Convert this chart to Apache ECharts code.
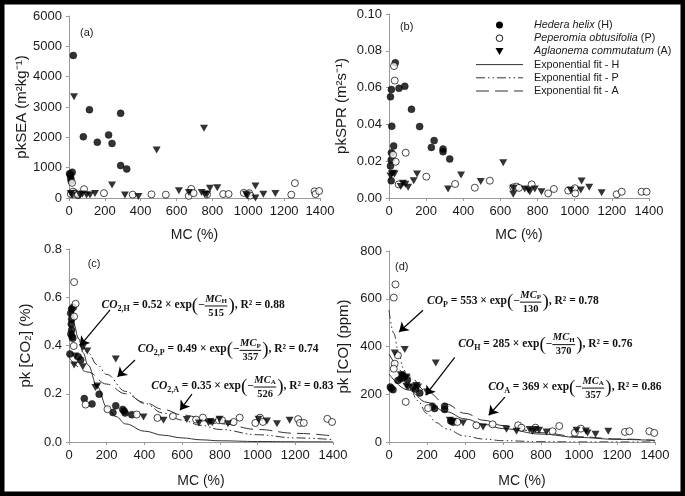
<!DOCTYPE html>
<html><head><meta charset="utf-8">
<script src="https://cdn.jsdelivr.net/npm/echarts@6/dist/echarts.min.js"></script>
<style>html,body{margin:0;padding:0;background:#fff}#c{width:685px;height:496px}</style>
</head><body><div id="c"></div><script>
// ---------- data (MC %, value) ----------
const sea_H = [[3,800],[8,760],[10,650],[12,560],[18,850],[24,4700],[30,180],[50,100],[80,2020],[114,2910],[158,1840],[221,2080],[240,1800],[288,2790],[288,1070],[322,955]];
const sea_P = [[10,130],[17,500],[22,210],[28,140],[50,110],[84,290],[195,160],[355,110],[460,120],[540,110],[668,70],[682,300],[695,160],[770,120],[860,130],[890,130],[975,170],[1005,160],[1012,80],[1240,110],[1260,490],[1370,220],[1375,130],[1395,230]];
const sea_A = [[10,150],[18,100],[28,3340],[61,100],[75,130],[98,100],[117,100],[145,150],[240,430],[312,100],[387,50],[489,1580],[613,240],[669,180],[740,180],[753,2300],[758,120],[770,120],[786,320],[827,340],[987,120],[994,70],[1040,395],[1040,0],[1084,120],[1151,150]];

const spr_H = [[34,0.0735],[13,0.059],[54,0.0596],[85,0.0607],[8,0.055],[121,0.0482],[15,0.039],[165,0.0388],[243,0.0312],[228,0.0275],[291,0.0266],[291,0.0252],[327,0.0212],[25,0.0283],[13,0.0246],[12,0.0207],[8,0.0174],[12,0.0094]];
const spr_P = [[27,0.0717],[31,0.0638],[22,0.0235],[36,0.0197],[90,0.0246],[52,0.0074],[201,0.0116],[356,0.0076],[462,0.0056],[543,0.0094],[669,0.0058],[687,0.0062],[700,0.0055],[768,0.0074],[857,0.0025],[888,0.0049],[965,0.004],[1001,0.0053],[1003,0.0025],[1226,0.002],[1253,0.0034],[1360,0.0034],[1387,0.0034]];
const spr_A = [[8,0.012],[15,0.013],[22,0.0134],[30,0.013],[63,0.0062],[75,0.008],[88,0.0075],[103,0.0058],[133,0.0094],[151,0.013],[318,0.0049],[388,0.0125],[494,0.0089],[615,0.0192],[669,0.0053],[669,0.002],[731,0.0049],[750,0.0043],[758,0.0034],[785,0.0049],[821,0.0034],[978,0.0043],[1037,0.0092],[1033,0.0043],[1078,0.0058],[1145,0.0029]];

const co2_H = [[14,0.551],[23,0.559],[9,0.534],[14,0.509],[12,0.489],[14,0.464],[10,0.448],[16,0.437],[20,0.43],[5,0.365],[49,0.353],[62,0.34],[81,0.18],[122,0.158],[160,0.198],[233,0.122],[248,0.15],[285,0.135],[292,0.128],[298,0.12],[333,0.113]];
const co2_P = [[27,0.663],[35,0.573],[27,0.52],[25,0.398],[88,0.155],[204,0.136],[359,0.114],[469,0.1],[551,0.107],[674,0.093],[710,0.101],[795,0.09],[812,0.09],[873,0.083],[905,0.101],[988,0.079],[1013,0.101],[1028,0.083],[1215,0.095],[1225,0.079],[1245,0.079],[1370,0.096],[1395,0.083]];
const co2_A = [[27,0.319],[32,0.356],[73,0.392],[97,0.377],[73,0.312],[140,0.226],[150,0.232],[248,0.344],[395,0.104],[501,0.09],[625,0.093],[689,0.079],[740,0.08],[750,0.085],[760,0.08],[798,0.094],[843,0.076],[1005,0.094],[1050,0.087],[1103,0.076],[1170,0.09]];

const co_H = [[7,230],[12,225],[21,219],[47,258],[62,265],[70,280],[80,272],[97,261],[126,230],[140,222],[162,205],[228,150],[240,140],[293,150],[293,136],[325,88],[338,83]];
const co_P = [[34,660],[25,605],[47,363],[30,328],[25,307],[88,168],[206,142],[360,84],[460,70],[545,74],[680,70],[697,60],[771,60],[861,45],[896,67],[978,39],[1010,56],[1242,42],[1265,45],[1370,45],[1396,38]];
const co_A = [[30,373],[83,387],[62,282],[92,272],[92,233],[100,230],[144,237],[153,230],[200,209],[246,331],[320,91],[337,87],[390,80],[495,63],[618,53],[671,45],[740,52],[755,45],[770,52],[790,49],[829,42],[987,49],[1036,46],[1045,38],[1087,32],[1154,45]];

// fitted curves
const fitc_H = [[0,0.56],[25,0.49],[50,0.43],[75,0.37],[100,0.32],[150,0.23],[200,0.145],[250,0.105],[300,0.075],[400,0.045],[500,0.028],[600,0.017],[700,0.009],[800,0.005],[1000,0.002],[1200,0.001],[1400,0.0003]];
const fitc_P = [[0,0.49],[50,0.43],[100,0.37],[150,0.32],[200,0.28],[300,0.21],[400,0.16],[500,0.12],[600,0.091],[700,0.069],[800,0.052],[1000,0.030],[1200,0.017],[1400,0.010]];
const fitc_A = [[0,0.35],[100,0.29],[200,0.24],[300,0.20],[400,0.164],[500,0.135],[600,0.112],[800,0.076],[1000,0.052],[1200,0.036],[1400,0.025]];
const fitd_H = [[0,285],[100,218],[200,166],[300,127],[400,97],[500,74],[600,56],[800,33],[1000,19],[1200,11],[1400,6.5]];
const fitd_P = [[0,553],[25,456],[50,377],[75,310],[100,256],[150,174],[200,119],[250,81],[300,55],[400,25],[500,12],[600,5.5],[800,1.2],[1000,0.3],[1400,0]];
const fitd_A = [[0,369],[100,279],[200,211],[300,159],[400,120],[500,91],[600,69],[800,39],[1000,22],[1200,13],[1400,7]];

// annotations
const eqC = [
  {at:[173,0.568], lhs:'CO', sub:'2,H', coef:'0.52', num:'MC', nsub:'H', den:'515', r2:'0.88'},
  {at:[365,0.384], lhs:'CO', sub:'2,P', coef:'0.49', num:'MC', nsub:'P', den:'357', r2:'0.74'},
  {at:[436,0.232], lhs:'CO', sub:'2,A', coef:'0.35', num:'MC', nsub:'A', den:'526', r2:'0.83'}
];
const eqD = [
  {at:[200,590], lhs:'CO', sub:'P', coef:'553', num:'MC', nsub:'P', den:'130', r2:'0.78'},
  {at:[364,412], lhs:'CO', sub:'H', coef:'285', num:'MC', nsub:'H', den:'370', r2:'0.76'},
  {at:[522,230], lhs:'CO', sub:'A', coef:'369', num:'MC', nsub:'A', den:'357', r2:'0.86'}
];
const arrowsC = [[[218,0.548],[58,0.398]],[[350,0.34],[257,0.27]],[[652,0.198],[589,0.132]]];
const arrowsD = [[[179,552],[53,461]],[[346,354],[193,196]],[[610,188],[525,112]]];
const legendItems = [
  {key:'H', text:'{i|Hedera helix} (H)'},
  {key:'P', text:'{i|Peperomia obtusifolia} (P)'},
  {key:'A', text:'{i|Aglaonema commutatum} (A)'},
  {key:'fH', text:'Exponential fit - H'},
  {key:'fP', text:'Exponential fit - P'},
  {key:'fA', text:'Exponential fit - A'}
];

// ---------- chart ----------
const SANS = '"Liberation Sans", Arial, sans-serif';
const SERIF = '"Liberation Serif", "DejaVu Serif", serif';
const TXT = '#1a1a1a';
const AX = '#9a9a9a';
const grids = [
  {left:69, top:16, width:251, height:182},
  {left:389, top:14, width:260, height:184},
  {left:69, top:249, width:264, height:193},
  {left:389, top:251, width:266, height:191}
];
function xAx(i, gap){
  return {gridIndex:i, type:'value', min:0, max:1400, interval:200,
    name:'MC (%)', nameLocation:'middle', nameGap:gap,
    nameTextStyle:{fontSize:14, color:TXT, fontFamily:SANS},
    axisLine:{lineStyle:{color:AX, width:1}},
    axisTick:{show:true, inside:false, length:3, lineStyle:{color:AX}},
    splitLine:{show:false},
    axisLabel:{fontSize:13, color:TXT, fontFamily:SANS, margin:7, formatter:v=>String(v)}};
}
function yAx(i, max, interval, name, dec, gap){
  return {gridIndex:i, type:'value', min:0, max:max, interval:interval,
    name:name, nameLocation:'middle', nameGap:gap, nameRotate:90,
    nameTextStyle:{fontSize:15, color:TXT, fontFamily:SANS},
    axisLine:{show:true, lineStyle:{color:AX, width:1}},
    axisTick:{show:true, inside:false, length:3, lineStyle:{color:AX}},
    splitLine:{show:false},
    axisLabel:{fontSize:13, color:TXT, fontFamily:SANS, margin:7, formatter:v=>v.toFixed(dec)}};
}
const sym = {
  H:{symbol:'circle', symbolSize:7, itemStyle:{color:'#000', borderColor:'#000', borderWidth:0.5}},
  P:{symbol:'circle', symbolSize:7, itemStyle:{color:'#fff', borderColor:'#000', borderWidth:0.9}},
  A:{symbol:'triangle', symbolRotate:180, symbolSize:[8,7], itemStyle:{color:'#000'}}
};
function sc(name, i, data){
  return Object.assign({type:'scatter', name:name, xAxisIndex:i, yAxisIndex:i, data:data, z:3}, sym[name]);
}
const dashP = [9,3,1.5,3,1.5,3];
const dashA = [13,6];
const lineType = {fH:'solid', fP:dashP, fA:dashA};
function fit(name, i, data, arrows){
  const s = {type:'line', name:name, xAxisIndex:i, yAxisIndex:i, data:data, smooth:0.4, smoothMonotone:'x',
    symbol:'none', showSymbol:false, z:2,
    lineStyle:{color:'#333', width:1, type:lineType[name]}, itemStyle:{color:'#333'}};
  if (arrows) {
    s.markLine = {silent:true, symbol:['none','arrow'], symbolSize:9, animation:false,
      lineStyle:{color:'#000', width:1.2, type:'solid'}, label:{show:false},
      data: arrows.map(a => [{coord:a[0]},{coord:a[1]}])};
  }
  return s;
}
const option = {
  animation:false,
  backgroundColor:'#fff',
  grid: grids,
  xAxis:[xAx(0,30), xAx(1,30), xAx(2,32), xAx(3,32)],
  yAxis:[
    yAx(0, 6000, 1000, 'pkSEA (m²kg⁻¹)', 0, 38),
    yAx(1, 0.10, 0.02, 'pkSPR (m²s⁻¹)', 2, 40),
    yAx(2, 0.8, 0.2, 'pk [CO₂] (%)', 1, 36),
    yAx(3, 800, 200, 'pk [CO] (ppm)', 0, 38)
  ],
  series:[
    sc('H',0,sea_H), sc('P',0,sea_P), sc('A',0,sea_A),
    sc('H',1,spr_H), sc('P',1,spr_P), sc('A',1,spr_A),
    fit('fH',2,fitc_H,arrowsC), fit('fP',2,fitc_P), fit('fA',2,fitc_A),
    sc('H',2,co2_H), sc('P',2,co2_P), sc('A',2,co2_A),
    fit('fH',3,fitd_H,arrowsD), fit('fP',3,fitd_P), fit('fA',3,fitd_A),
    sc('H',3,co_H), sc('P',3,co_P), sc('A',3,co_A)
  ]
};
const chart = echarts.init(document.getElementById('c'), null, {renderer:'canvas'});
chart.setOption(option);

// ---------- equations, legend, panel labels, frame ----------
const mctx = document.createElement('canvas').getContext('2d');
function tw(t, f){ mctx.font = f; return mctx.measureText(t).width; }
function fnt(size, italic, bold){ return (italic?'italic ':'') + (bold===false?'':'bold ') + size + 'px ' + SERIF; }
function txt(els, t, x, y, f){
  els.push({type:'text', x:x, y:y, silent:true, z:50,
    style:{text:t, font:f, fill:'#111', textAlign:'left', textVerticalAlign:'middle', align:'left', verticalAlign:'middle'}});
  return tw(t, f);
}
function buildEq(els, gi, e){
  const p = chart.convertToPixel({gridIndex:gi}, e.at);
  let x = p[0], y = p[1];
  const M = 11.5, S = 8, F = 10.5;
  x += txt(els, e.lhs, x, y, fnt(M,true));
  x += txt(els, e.sub, x, y+4, fnt(S,false));
  x += txt(els, ' = ' + e.coef + ' × exp', x, y, fnt(M,false));
  x += txt(els, '(', x, y+1, fnt(19,false,false));
  x += txt(els, '−', x, y, fnt(M,false));
  const nw = tw(e.num, fnt(F,true)) + tw(e.nsub, fnt(7,false));
  const dw = tw(e.den, fnt(F,false));
  const fw = Math.max(nw, dw) + 1;
  let nx = x + (fw - nw)/2;
  nx += txt(els, e.num, nx, y-6, fnt(F,true));
  txt(els, e.nsub, nx, y-3.5, fnt(7,false));
  txt(els, e.den, x + (fw-dw)/2, y+8, fnt(F,false));
  els.push({type:'line', silent:true, z:50, shape:{x1:x, y1:y+1, x2:x+fw, y2:y+1}, style:{stroke:'#111', lineWidth:1}});
  x += fw + 1;
  x += txt(els, ')', x, y+1, fnt(19,false,false));
  txt(els, ', R² = ' + e.r2, x, y, fnt(M,false));
}
const els = [];
eqC.forEach(e => buildEq(els, 2, e));
eqD.forEach(e => buildEq(els, 3, e));

// legend (inside panel b)
const LX = 476, LW = 47, LY = 25, LH = 13.2;
legendItems.forEach((it, k) => {
  const y = LY + k * LH, cx = LX + LW/2;
  if (it.key === 'H') els.push({type:'circle', silent:true, z:50, shape:{cx:cx, cy:y, r:3.5}, style:{fill:'#000'}});
  else if (it.key === 'P') els.push({type:'circle', silent:true, z:50, shape:{cx:cx, cy:y, r:3.3}, style:{fill:'#fff', stroke:'#000', lineWidth:0.9}});
  else if (it.key === 'A') els.push({type:'polygon', silent:true, z:50, shape:{points:[[cx-4,y-3.5],[cx+4,y-3.5],[cx,y+3.5]]}, style:{fill:'#000'}});
  else els.push({type:'line', silent:true, z:50, shape:{x1:LX, y1:y, x2:LX+LW, y2:y},
    style:{stroke:'#333', lineWidth:1, lineDash: it.key==='fH' ? null : lineType[it.key]}});
  els.push({type:'text', silent:true, z:50, x:534, y:y,
    style:{text:it.text, font:'10.8px ' + SANS, fill:TXT, textAlign:'left', textVerticalAlign:'middle', align:'left', verticalAlign:'middle',
      rich:{i:{fontStyle:'italic', fontSize:10.8, fontFamily:SANS, fill:TXT, color:TXT}}}});
});

const panelLabels = [['(a)',0,[99,5430]],['(b)',1,[95,0.093]],['(c)',2,[133,0.74]],['(d)',3,[67,735]]];
panelLabels.forEach(l => {
  const p = chart.convertToPixel({gridIndex:l[1]}, l[2]);
  els.push({type:'text', x:p[0], y:p[1], silent:true, z:50,
    style:{text:l[0], font:'11px ' + SANS, fill:TXT, textAlign:'center', textVerticalAlign:'middle', align:'center', verticalAlign:'middle'}});
});
els.push({type:'rect', silent:true, z:100, shape:{x:0, y:0, width:685, height:496},
  style:{fill:'none', stroke:'#000', lineWidth:9}});
chart.setOption({graphic:{elements:els}});
</script></body></html>
